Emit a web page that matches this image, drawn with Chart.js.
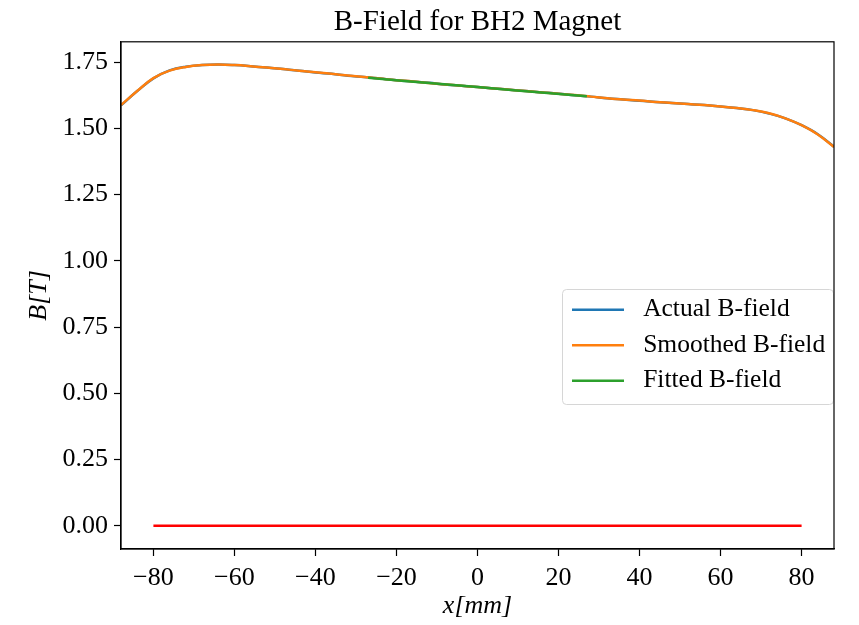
<!DOCTYPE html>
<html>
<head>
<meta charset="utf-8">
<script src="https://cdn.jsdelivr.net/npm/chart.js@4.4.1/dist/chart.umd.min.js"></script>
<style>
html, body { margin: 0; padding: 0; background: #fff; }
#wrap { width: 859px; height: 625px; }
</style>
</head>
<body>
<div id="wrap"><canvas id="bfield" width="859" height="625"></canvas></div>
<script>
// positions along the magnet [mm]
var positionX = [-88, -84, -80, -76, -72, -68, -64, -60, -56, -52, -48, -44, -40, -36, -32,
                 -28, -24, -20, -16, -12, -8, -4, 0, 4, 8, 12, 16, 20, 24, 28, 32, 36, 40,
                 44, 48, 52, 56, 60, 64, 68, 72, 76, 80, 84, 88];
// measured field [T]
var actualB = [1.587, 1.641, 1.689, 1.719, 1.733, 1.739, 1.741, 1.739, 1.735, 1.730, 1.724,
               1.718, 1.711, 1.706, 1.699, 1.694, 1.688, 1.682, 1.677, 1.672, 1.666, 1.661,
               1.656, 1.651, 1.646, 1.641, 1.636, 1.631, 1.625, 1.620, 1.614, 1.609, 1.604,
               1.600, 1.596, 1.592, 1.588, 1.583, 1.577, 1.569, 1.556, 1.538, 1.512, 1.478, 1.431];
// smoothed field [T]
var smoothedB = [1.588, 1.641, 1.690, 1.718, 1.732, 1.739, 1.741, 1.739, 1.735, 1.730, 1.724,
                 1.718, 1.712, 1.706, 1.700, 1.694, 1.688, 1.682, 1.677, 1.671, 1.666, 1.661,
                 1.656, 1.651, 1.646, 1.641, 1.636, 1.631, 1.626, 1.620, 1.614, 1.609, 1.605,
                 1.600, 1.596, 1.592, 1.588, 1.583, 1.577, 1.569, 1.557, 1.538, 1.512, 1.477, 1.430];
// linear fit over the central region
var fittedX = [-27, -18, -9, 0, 9, 18, 27];
var fittedB = [1.691, 1.679, 1.668, 1.656, 1.644, 1.633, 1.621];
// zero reference line
var zeroX = [-80, 80];
var zeroB = [0, 0];

var xTicks = [-80, -60, -40, -20, 0, 20, 40, 60, 80];
var yTicks = [0, 0.25, 0.5, 0.75, 1.0, 1.25, 1.5, 1.75];

function pairs(xs, ys) {
    return xs.map(function(x, i) { return { x: x, y: ys[i] }; });
}

var serif = "'Liberation Serif', 'Times New Roman', serif";

var legendPlace = {
    id: 'legendPlace',
    afterLayout: function(chart) {
        var lg = chart.legend;
        var w = lg.width, h = lg.height;
        lg.left = 562;
        lg.top = 287;
        lg.right = lg.left + w;
        lg.bottom = lg.top + h;
    },
    beforeDraw: function(chart) {
        var ctx = chart.ctx;
        var lg = chart.legend;
        ctx.save();
        ctx.fillStyle = 'rgba(255,255,255,0.8)';
        ctx.strokeStyle = '#d6d6d6';
        ctx.lineWidth = 1;
        ctx.beginPath();
        ctx.roundRect(lg.left + 0.5, lg.top + 2.5, 271, 115, 4);
        ctx.fill();
        ctx.stroke();
        ctx.restore();
    },
    afterDraw: function(chart) {
        var a = chart.chartArea;
        var ctx = chart.ctx;
        ctx.save();
        ctx.strokeStyle = '#000';
        ctx.lineWidth = 1.2;
        ctx.strokeRect(a.left, a.top, a.right - a.left, a.bottom - a.top);
        ctx.restore();
    }
};

var ctx = document.getElementById("bfield").getContext("2d");
var chart = new Chart(ctx, {
    type: 'line',
    data: {
        datasets: [
            {
                label: ' Actual B-field',
                data: pairs(positionX, actualB),
                borderColor: '#1f77b4',
                borderWidth: 2.5,
                pointRadius: 0,
                tension: 0.4,
                fill: false,
                order: 3
            },
            {
                label: ' Smoothed B-field',
                data: pairs(positionX, smoothedB),
                borderColor: '#ff7f0e',
                borderWidth: 2.5,
                pointRadius: 0,
                tension: 0.4,
                fill: false,
                order: 2
            },
            {
                label: ' Fitted B-field',
                data: pairs(fittedX, fittedB),
                borderColor: '#2ca02c',
                borderWidth: 2.5,
                pointRadius: 0,
                fill: false,
                order: 1
            },
            {
                label: 'zero',
                data: pairs(zeroX, zeroB),
                borderColor: '#ff0000',
                borderWidth: 2.5,
                pointRadius: 0,
                fill: false,
                order: 0
            }
        ]
    },
    options: {
        responsive: false,
        devicePixelRatio: 1,
        animation: false,
        layout: { padding: { left: 0, right: 25, top: 0, bottom: 0 } },
        plugins: {
            tooltip: { enabled: false },
            title: {
                display: true,
                text: 'B-Field for BH2 Magnet',
                fullSize: false,
                color: '#000',
                font: { family: serif, size: 29, weight: 'normal' },
                padding: { top: 5, bottom: 2 }
            },
            legend: {
                position: 'chartArea',
                align: 'start',
                labels: {
                    color: '#000',
                    font: { family: serif, size: 25.5 },
                    usePointStyle: true,
                    pointStyle: 'line',
                    pointStyleWidth: 52,
                    boxHeight: 25,
                    padding: 10,
                    filter: function(item) { return item.text !== 'zero'; },
                    sort: function(a, b) { return a.datasetIndex - b.datasetIndex; }
                }
            }
        },
        scales: {
            x: {
                type: 'linear',
                min: -88,
                max: 88,
                afterFit: function(s) { s.height = 76; },
                afterBuildTicks: function(s) {
                    s.ticks = xTicks.map(function(v) { return { value: v }; });
                },
                grid: { drawOnChartArea: false, drawTicks: true, tickLength: 7, color: '#000', tickWidth: 1.2 },
                border: { color: '#000', width: 1.2 },
                ticks: {
                    color: '#000',
                    padding: 7,
                    maxRotation: 0,
                    font: { family: serif, size: 26 },
                    callback: function(v) { return String(v).replace('-', '\u2212'); }
                },
                title: {
                    display: true,
                    text: 'x[mm]',
                    color: '#000',
                    font: { family: serif, size: 26, style: 'italic' },
                    padding: { top: 0, bottom: 3 }
                }
            },
            y: {
                type: 'linear',
                min: -0.088,
                max: 1.827,
                afterFit: function(s) { s.width = 121; },
                afterBuildTicks: function(s) {
                    s.ticks = yTicks.map(function(v) { return { value: v }; });
                },
                grid: { drawOnChartArea: false, drawTicks: true, tickLength: 7, color: '#000', tickWidth: 1.2 },
                border: { color: '#000', width: 1.2 },
                ticks: {
                    color: '#000',
                    padding: 6,
                    font: { family: serif, size: 26 },
                    callback: function(v) { return v.toFixed(2); }
                },
                title: {
                    display: true,
                    text: 'B[T]',
                    color: '#000',
                    font: { family: serif, size: 26, style: 'italic' },
                    padding: { top: 24, bottom: 0 }
                }
            }
        }
    },
    plugins: [legendPlace]
});
</script>
</body>
</html>
